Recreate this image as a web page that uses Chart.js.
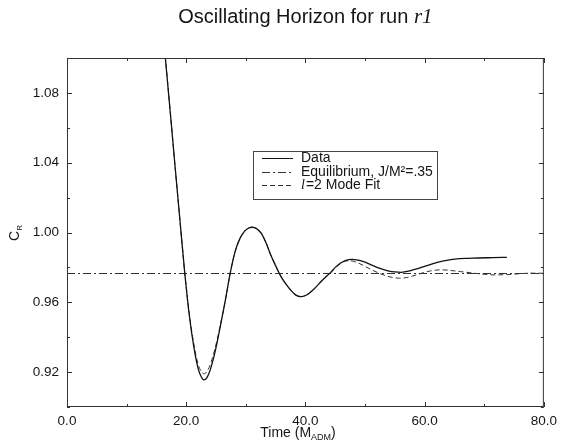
<!DOCTYPE html>
<html>
<head>
<meta charset="utf-8">
<script src="https://cdn.jsdelivr.net/npm/chart.js@4"></script>
<style>
html, body { margin: 0; padding: 0; background: #fff; }
</style>
</head>
<body>
<canvas id="chart" width="563" height="446"></canvas>
<script>
// values
const dataTimes = [14.5, 16.5, 18.1, 19.0, 19.75, 20.5, 21.25, 22.0, 22.5, 23.0, 23.5, 24.0, 24.8, 25.6, 26.5, 27.4, 28.2, 29.0, 29.8, 30.5, 31.1, 31.8, 32.6, 33.4, 34.2, 35.0, 35.7, 36.5, 37.6, 38.4, 39.2, 40.2, 41.4, 42.8, 44.2, 45.0, 45.9, 46.8, 47.8, 48.8, 50.0, 51.0, 52.0, 53.0, 54.0, 55.0, 56.1, 57.3, 58.5, 59.7, 60.8, 62.0, 63.0, 64.4, 65.8, 67.4, 69.0, 71.5, 73.8];
const dataValues = [1.165, 1.100, 1.039, 1.005, 0.977, 0.953, 0.935, 0.922, 0.9175, 0.9155, 0.917, 0.921, 0.931, 0.944, 0.960, 0.977, 0.989, 0.9965, 1.0008, 1.0026, 1.003, 1.0022, 0.9995, 0.994, 0.987, 0.981, 0.976, 0.9715, 0.9667, 0.9641, 0.9632, 0.9642, 0.9675, 0.9725, 0.977, 0.9800, 0.9825, 0.9840, 0.9846, 0.9842, 0.9830, 0.9815, 0.9800, 0.9788, 0.9779, 0.9774, 0.9772, 0.9778, 0.9790, 0.9803, 0.9815, 0.9827, 0.9836, 0.9845, 0.9850, 0.9852, 0.9854, 0.9856, 0.9858];

const fitTimes = [14.5, 16.5, 18.1, 19.0, 19.75, 20.5, 21.25, 22.0, 22.5, 23.0, 23.5, 24.0, 24.8, 25.6, 26.5, 27.4, 28.2, 29.0, 29.8, 30.5, 31.1, 31.8, 32.6, 33.4, 34.2, 35.0, 35.7, 36.5, 37.6, 38.4, 39.2, 40.2, 41.4, 42.8, 44.2, 45.0, 45.9, 46.7, 47.5, 48.5, 49.5, 50.5, 51.5, 52.5, 53.5, 54.5, 55.8, 57.0, 58.0, 59.1, 60.0, 61.0, 62.0, 63.0, 64.0, 65.0, 66.0, 67.0, 68.0, 69.0, 70.5, 71.9, 73.0, 74.5, 76.0, 77.5, 79.0, 80.0];
const fitValues = [1.165, 1.100, 1.039, 1.005, 0.977, 0.954, 0.9365, 0.9245, 0.9205, 0.919, 0.9205, 0.924, 0.933, 0.945, 0.960, 0.977, 0.989, 0.9965, 1.0008, 1.0026, 1.003, 1.0022, 0.9995, 0.994, 0.987, 0.981, 0.976, 0.9715, 0.9667, 0.9641, 0.9632, 0.9642, 0.9675, 0.9725, 0.977, 0.9795, 0.9822, 0.9836, 0.9838, 0.9830, 0.9815, 0.9797, 0.9780, 0.9765, 0.9752, 0.9743, 0.9738, 0.9742, 0.9751, 0.9762, 0.9772, 0.9780, 0.9785, 0.9786, 0.9784, 0.9780, 0.9776, 0.9772, 0.9768, 0.9764, 0.9759, 0.9757, 0.9758, 0.9760, 0.9764, 0.9767, 0.9767, 0.9766];

const equilibriumTimes = [0, 80];
const equilibriumValues = [0.9765, 0.9765];

const seriesLabels = ['Data', 'Equilibrium, J/M\u00B2=.35', 'l=2 Mode Fit'];
const titleText = 'Oscillating Horizon for run ';
const runName = 'r1';

const sans = '"Liberation Sans", Arial, sans-serif';
const serif = '"Liberation Serif", "Times New Roman", serif';
const ink = '#151515';

function toPoints(xs, ys) {
    return xs.map((x, i) => ({ x: x, y: ys[i] }));
}

const framePlugin = {
    id: 'frame',
    afterDatasetsDraw(chart) {
        const ctx = chart.ctx;
        const area = chart.chartArea;
        const xs = chart.scales.x;
        const ys = chart.scales.y;
        ctx.save();
        ctx.strokeStyle = '#333';
        ctx.lineWidth = 1;
        ctx.strokeRect(area.left + 0.5, area.top + 0.5, area.right - area.left - 1, area.bottom - area.top - 1);

        // inward ticks on all four sides
        ctx.beginPath();
        xs.ticks.forEach((t, i) => {
            const px = Math.round(xs.getPixelForTick(i)) + 0.5;
            const len = t.label !== '' ? 5 : 3;
            ctx.moveTo(px, area.bottom);
            ctx.lineTo(px, area.bottom - len);
            ctx.moveTo(px, area.top);
            ctx.lineTo(px, area.top + len);
        });
        ys.ticks.forEach((t, i) => {
            const py = Math.round(ys.getPixelForTick(i)) + 0.5;
            const len = t.label !== '' ? 5 : 3;
            ctx.moveTo(area.left, py);
            ctx.lineTo(area.left + len, py);
            ctx.moveTo(area.right, py);
            ctx.lineTo(area.right - len, py);
        });
        ctx.stroke();

        // legend
        const box = { x: 253, y: 151, w: 184, h: 48 };
        ctx.fillStyle = '#fff';
        ctx.fillRect(box.x, box.y, box.w, box.h);
        ctx.strokeStyle = '#444';
        ctx.strokeRect(box.x + 0.5, box.y + 0.5, box.w, box.h);
        const rows = [158, 172, 185];
        ctx.textBaseline = 'middle';
        ctx.fillStyle = ink;
        chart.data.datasets.forEach((ds, i) => {
            const y = rows[i] + 0.5;
            ctx.beginPath();
            ctx.strokeStyle = ds.borderColor;
            ctx.lineWidth = 1;
            ctx.setLineDash(ds.borderDash || []);
            ctx.moveTo(262, y);
            ctx.lineTo(293, y);
            ctx.stroke();
            ctx.setLineDash([]);
            const label = ds.label;
            let x = 301;
            if (label.startsWith('l=')) {
                ctx.font = 'italic 14px ' + serif;
                ctx.fillText('l', x, rows[i]);
                x += ctx.measureText('l').width + 1;
                ctx.font = '14px ' + sans;
                ctx.fillText(label.slice(1), x, rows[i]);
            } else {
                ctx.font = '14px ' + sans;
                ctx.fillText(label, x, rows[i]);
            }
        });

        // title
        ctx.textBaseline = 'alphabetic';
        ctx.font = '20px ' + sans;
        const w1 = ctx.measureText(titleText).width;
        ctx.font = 'italic 21px ' + serif;
        const w2 = ctx.measureText(runName).width;
        const tx = (area.left + area.right) / 2 - (w1 + w2) / 2;
        ctx.font = '20px ' + sans;
        ctx.fillText(titleText, tx, 23);
        ctx.font = 'italic 21px ' + serif;
        ctx.fillText(runName, tx + w1, 23);

        // x axis title
        ctx.font = '14px ' + sans;
        const a = 'Time (M';
        const wa = ctx.measureText(a).width;
        ctx.font = '9px ' + sans;
        const wb = ctx.measureText('ADM').width;
        ctx.font = '14px ' + sans;
        const wc = ctx.measureText(')').width;
        let sx = 298 - (wa + wb + wc) / 2;
        ctx.fillText(a, sx, 437);
        ctx.font = '9px ' + sans;
        ctx.fillText('ADM', sx + wa, 440);
        ctx.font = '14px ' + sans;
        ctx.fillText(')', sx + wa + wb, 437);

        // y axis title
        ctx.translate(19, 233);
        ctx.rotate(-Math.PI / 2);
        ctx.font = '14px ' + sans;
        const wC = ctx.measureText('C').width;
        ctx.font = '8px ' + sans;
        const wR = ctx.measureText('R').width;
        ctx.font = '14px ' + sans;
        ctx.fillText('C', -(wC + wR) / 2, 0);
        ctx.font = '8px ' + sans;
        ctx.fillText('R', -(wC + wR) / 2 + wC, 3);
        ctx.restore();
    }
};

const chart = new Chart(document.getElementById('chart'), {
    type: 'line',
    data: {
        datasets: [
            {
                label: seriesLabels[0],
                data: toPoints(dataTimes, dataValues),
                borderColor: '#111',
                borderWidth: 1.3,
                pointRadius: 0,
                cubicInterpolationMode: 'monotone'
            },
            {
                label: seriesLabels[1],
                data: toPoints(equilibriumTimes, equilibriumValues),
                borderColor: '#333',
                borderWidth: 1,
                borderDash: [8, 3, 2, 3],
                pointRadius: 0
            },
            {
                label: seriesLabels[2],
                data: toPoints(fitTimes, fitValues),
                borderColor: '#333',
                borderWidth: 1,
                borderDash: [5, 3],
                pointRadius: 0,
                cubicInterpolationMode: 'monotone'
            }
        ]
    },
    options: {
        responsive: false,
        animation: false,
        layout: { padding: { top: 58, right: 15, left: 0, bottom: 0 } },
        scales: {
            x: {
                type: 'linear',
                min: 0,
                max: 80,
                grid: { display: false, drawTicks: false },
                border: { display: false },
                afterFit: scale => { scale.height = 39; },
                ticks: {
                    stepSize: 10,
                    padding: 6,
                    maxRotation: 0,
                    color: ink,
                    font: { family: sans, size: 13.5 },
                    callback: value => (value % 20 === 0 ? value.toFixed(1) : '')
                }
            },
            y: {
                min: 0.9,
                max: 1.1,
                grid: { display: false, drawTicks: false },
                border: { display: false },
                afterFit: scale => { scale.width = 67; },
                ticks: {
                    stepSize: 0.02,
                    padding: 8,
                    color: ink,
                    font: { family: sans, size: 13.5 },
                    callback: value => (Math.round(value * 100) % 4 === 0 ? value.toFixed(2) : '')
                }
            }
        },
        plugins: {
            legend: { display: false },
            tooltip: { enabled: false }
        }
    },
    plugins: [framePlugin]
});
</script>
</body>
</html>
